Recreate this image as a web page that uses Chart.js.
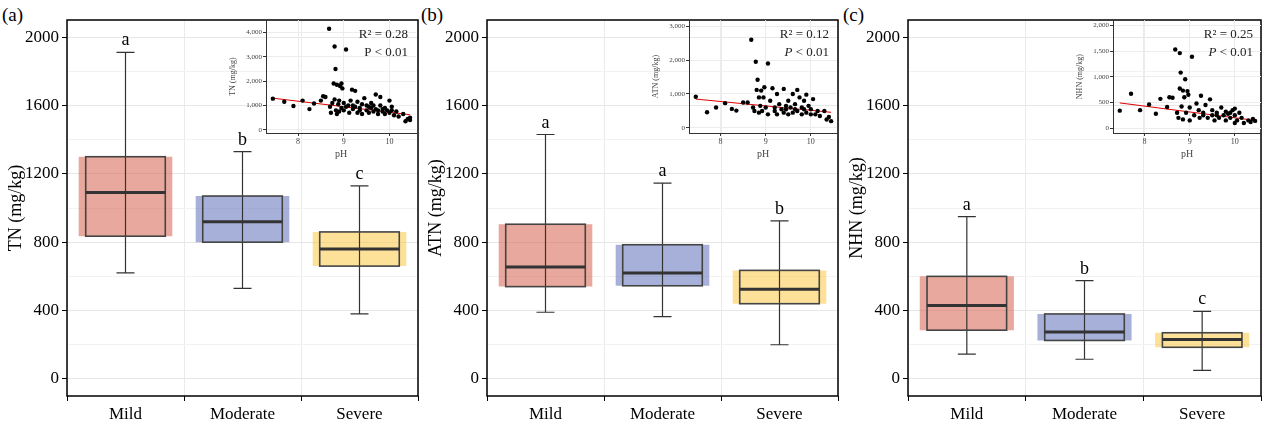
<!DOCTYPE html>
<html><head><meta charset="utf-8">
<script src="https://cdn.jsdelivr.net/npm/chart.js@4"></script>
<style>
body{margin:0;width:1269px;height:444px;background:#fff;position:relative;overflow:hidden;font-family:"Liberation Serif",serif}
canvas{position:absolute}
.lab{position:absolute;font-size:19px;top:4px}
</style></head><body>
<div class="lab" style="left:2px">(a)</div>
<div class="lab" style="left:421px">(b)</div>
<div class="lab" style="left:843px">(c)</div>
<canvas id="ma" style="left:0;top:0" width="422" height="444"></canvas>
<canvas id="mb" style="left:420px;top:0" width="422" height="444"></canvas>
<canvas id="mc" style="left:841px;top:0" width="424" height="444"></canvas>
<canvas id="ia" style="left:228px;top:15px" width="192" height="145"></canvas>
<canvas id="ib" style="left:651px;top:15px" width="190" height="145"></canvas>
<canvas id="ic" style="left:1075px;top:15px" width="190" height="145"></canvas>
<script>
"use strict";
const $ = (id) => document.getElementById(id);
const FONT = "'Liberation Serif', serif";

const groups = ["Mild", "Moderate", "Severe"];
const boxColors = ["rgba(214,96,77,0.55)", "rgba(86,104,180,0.52)", "rgba(253,197,60,0.52)"];

// [min, q1, median, q3, max]
const tnBox = [[620, 835, 1090, 1300, 1910], [530, 800, 920, 1070, 1330], [380, 660, 760, 860, 1130]];
const atnBox = [[390, 540, 655, 905, 1430], [365, 545, 620, 785, 1145], [200, 440, 525, 635, 925]];
const nhnBox = [[145, 285, 430, 600, 950], [115, 225, 275, 380, 575], [50, 185, 230, 270, 395]];
const tnLetters = ["a", "b", "c"];
const atnLetters = ["a", "a", "b"];
const nhnLetters = ["a", "b", "c"];

const tnPts = [[7.45,1280],[7.7,1150],[7.9,980],[8.1,1200],[8.25,850],[8.35,1080],[8.5,1200],[8.55,1380],[8.6,1350],[8.68,4150],[8.7,950],[8.72,700],[8.75,1100],[8.78,1900],[8.8,3420],[8.8,1250],[8.82,2500],[8.83,800],[8.85,1850],[8.85,650],[8.88,1050],[8.9,1200],[8.9,750],[8.92,1800],[8.95,1900],[8.95,900],[8.97,1700],[9.0,1100],[9.0,800],[9.05,3300],[9.05,950],[9.1,1000],[9.12,700],[9.15,1200],[9.18,1650],[9.2,850],[9.25,1600],[9.25,950],[9.3,1150],[9.3,700],[9.35,900],[9.4,1050],[9.4,650],[9.45,1300],[9.5,800],[9.5,1000],[9.55,700],[9.6,900],[9.6,1100],[9.65,750],[9.7,1450],[9.7,850],[9.75,650],[9.8,1000],[9.8,1350],[9.85,750],[9.9,900],[9.9,650],[9.95,800],[10.0,1200],[10.0,700],[10.05,950],[10.1,600],[10.15,750],[10.2,550],[10.3,650],[10.35,350],[10.4,450],[10.45,400],[10.45,500],[9.2,1000],[9.35,800],[9.55,950],[9.65,1000],[9.75,800],[9.85,850],[10.05,800]];
const atnPts = [[7.45,920],[7.7,460],[7.9,600],[8.1,730],[8.25,560],[8.35,510],[8.5,750],[8.6,750],[8.68,2600],[8.72,600],[8.75,500],[8.78,1950],[8.8,1120],[8.82,1420],[8.85,900],[8.85,450],[8.88,650],[8.9,1100],[8.92,500],[8.95,900],[8.97,1200],[9.0,600],[9.05,1900],[9.05,400],[9.1,800],[9.15,1170],[9.2,600],[9.25,1000],[9.25,400],[9.3,700],[9.35,550],[9.4,1150],[9.4,450],[9.45,650],[9.5,800],[9.5,400],[9.55,600],[9.6,1000],[9.6,450],[9.65,700],[9.7,1120],[9.7,500],[9.75,900],[9.8,600],[9.8,400],[9.85,800],[9.9,450],[9.9,980],[9.95,650],[10.0,550],[10.05,850],[10.1,400],[10.15,500],[10.2,350],[10.3,500],[10.35,250],[10.4,320],[10.45,200],[9.2,500],[9.45,550],[9.65,550],[9.85,550],[10.0,400]];
const nhnPts = [[7.45,340],[7.7,670],[7.9,350],[8.1,460],[8.25,280],[8.35,570],[8.5,410],[8.55,600],[8.62,590],[8.68,1530],[8.72,300],[8.75,200],[8.78,1460],[8.78,770],[8.8,1080],[8.82,420],[8.85,730],[8.85,170],[8.88,600],[8.9,950],[8.92,300],[8.95,720],[8.97,650],[9.0,400],[9.0,150],[9.05,1390],[9.1,250],[9.15,480],[9.2,350],[9.22,200],[9.25,630],[9.3,300],[9.35,450],[9.4,200],[9.45,560],[9.5,250],[9.5,350],[9.55,150],[9.6,300],[9.65,200],[9.7,400],[9.75,250],[9.8,320],[9.8,150],[9.85,280],[9.9,200],[9.95,350],[10.0,250],[10.0,380],[10.05,150],[10.1,300],[10.15,200],[10.2,100],[10.3,150],[10.35,120],[10.4,180],[10.45,140],[9.3,250],[9.6,250],[9.9,300],[10.0,100]];
// fitted line endpoints
const tnFit = [[7.45,1300],[10.45,620]];
const atnFit = [[7.45,850],[10.45,460]];
const nhnFit = [[7.45,490],[10.45,150]];

const frame = {
  id: "frame",
  afterDraw(c) {
    const a = c.chartArea, ctx = c.ctx;
    ctx.save(); ctx.strokeStyle = "#000"; ctx.lineWidth = 1.5;
    ctx.strokeRect(a.left, a.top, a.right - a.left, a.bottom - a.top); ctx.restore();
  },
};

const boxPlugin = {
  id: "boxes",
  afterDatasetsDraw(c) {
    const { box, letters } = c.config.options.plugins.boxes;
    const x = c.scales.x, y = c.scales.y, ctx = c.ctx;
    ctx.save();
    box.forEach((b, i) => {
      const cx = x.getPixelForValue(i), hw = 40, cap = 9;
      ctx.strokeStyle = "#333"; ctx.lineWidth = 1.2;
      ctx.beginPath();
      ctx.moveTo(cx, y.getPixelForValue(b[0])); ctx.lineTo(cx, y.getPixelForValue(b[4]));
      [b[0], b[4]].forEach((v) => { const p = y.getPixelForValue(v); ctx.moveTo(cx - cap, p); ctx.lineTo(cx + cap, p); });
      ctx.stroke();
      const t = y.getPixelForValue(b[3]), bt = y.getPixelForValue(b[1]);
      ctx.lineWidth = 1.6; ctx.strokeStyle = "#444";
      ctx.strokeRect(cx - 2.6 * cap * 1.7, t, 2 * 2.6 * cap * 1.7, bt - t);
      ctx.lineWidth = 3; ctx.strokeStyle = "#333";
      const m = y.getPixelForValue(b[2]);
      ctx.beginPath(); ctx.moveTo(cx - 2.6 * cap * 1.7, m); ctx.lineTo(cx + 2.6 * cap * 1.7, m); ctx.stroke();
      ctx.fillStyle = "#000"; ctx.font = `18px ${FONT}`; ctx.textAlign = "center";
      ctx.fillText(letters[i], cx, y.getPixelForValue(b[4]) - 7);
    });
    ctx.restore();
  },
};

function makeMain(id, title, box, letters) {
  new Chart($(id), {
    type: "bar",
    data: {
      labels: groups,
      datasets: [{ data: box.map((b) => [b[1], b[3]]), backgroundColor: boxColors, barPercentage: 0.8, categoryPercentage: 1 }],
    },
    options: {
      responsive: false, animation: false,
      layout: { padding: { left: 5, top: 20, right: 4 } },
      plugins: { legend: { display: false }, tooltip: { enabled: false }, boxes: { box, letters } },
      scales: {
        x: {
          grid: { color: "#ebebeb", drawTicks: true, tickColor: "#000", tickLength: 5 },
          border: { display: false },
          ticks: { color: "#000", font: { family: FONT, size: 17 } },
          afterFit: (s) => { s.height = 48; },
        },
        y: {
          min: -100, max: 2100,
          afterBuildTicks: (s) => { s.ticks = []; for (let v = 0; v <= 2000; v += 200) s.ticks.push({ value: v }); },
          grid: { color: (c) => (c.tick.value % 400 === 0 ? "#e6e6e6" : "#f2f2f2"), tickColor: (c) => (c.tick.value % 400 === 0 ? "#000" : "rgba(0,0,0,0)"), tickLength: 5 },
          border: { display: false },
          ticks: { color: "#000", font: { family: FONT, size: 17 }, callback: (v) => (v % 400 === 0 ? v : "") },
          title: { display: true, text: title, color: "#000", font: { family: FONT, size: 18 }, padding: 0 },
          afterFit: (s) => { s.width = 62; },
        },
      },
    },
    plugins: [boxPlugin, frame],
  });
}

const statPlugin = {
  id: "stat",
  afterDraw(c) {
    const { r2 , italic } = c.config.options.plugins.stat;
    const a = c.chartArea, ctx = c.ctx;
    ctx.save(); ctx.fillStyle = "#222"; ctx.textAlign = "right";
    ctx.font = `13px ${FONT}`;
    ctx.fillText("R\u00b2 = " + r2, a.right - 8, a.top + 18);
    ctx.font = `${italic ? "italic " : ""}13px ${FONT}`;
    const rest = " < 0.01";
    ctx.font = `13px ${FONT}`;
    const w = ctx.measureText(rest).width;
    ctx.fillText(rest, a.right - 8, a.top + 36);
    ctx.font = `${italic ? "italic " : ""}13px ${FONT}`;
    ctx.fillText("P", a.right - 8 - w, a.top + 36);
    ctx.restore();
  },
};

function makeInset(id, title, pts, fit, yMin, yMax, yStep, r2, italic) {
  new Chart($(id), {
    type: "scatter",
    data: {
      datasets: [
        { data: pts.map((p) => ({ x: p[0], y: p[1] })), backgroundColor: "#000", pointRadius: 2.2, borderWidth: 0 },
        { type: "line", data: fit.map((p) => ({ x: p[0], y: p[1] })), borderColor: "#e00000", borderWidth: 1, pointRadius: 0 },
      ],
    },
    options: {
      responsive: false, animation: false,
      layout: { padding: { top: 5, right: 2 } },
      plugins: { legend: { display: false }, tooltip: { enabled: false }, stat: { r2, italic } },
      scales: {
        x: {
          min: 7.3, max: 10.58,
          afterBuildTicks: (s) => { s.ticks = [8, 9, 10].map((v) => ({ value: v })); },
          grid: { color: "#ececec", tickColor: "#333", tickLength: 3 },
          border: { color: "#333", width: 1 },
          ticks: { color: "#444", font: { family: FONT, size: 8 }, padding: 1 },
          title: { display: true, text: "pH", color: "#444", font: { family: FONT, size: 10 }, padding: 0 },
          afterFit: (s) => { s.height = 27; },
        },
        y: {
          min: yMin, max: yMax,
          afterBuildTicks: (s) => { s.ticks = []; for (let v = 0; v <= yMax; v += yStep) s.ticks.push({ value: v }); },
          grid: { color: "#ececec", tickColor: "#333", tickLength: 3 },
          border: { color: "#333", width: 1 },
          ticks: { color: "#444", font: { family: FONT, size: 7 }, padding: 1 },
          title: { display: true, text: title, color: "#444", font: { family: FONT, size: 8 }, padding: 0 },
          afterFit: (s) => { s.width = 38; },
        },
      },
    },
    plugins: [statPlugin],
  });
}

makeMain("ma", "TN (mg/kg)", tnBox, tnLetters);
makeMain("mb", "ATN (mg/kg)", atnBox, atnLetters);
makeMain("mc", "NHN (mg/kg)", nhnBox, nhnLetters);
makeInset("ia", "TN (mg/kg)", tnPts, tnFit, -130, 4500, 1000, "0.28", false);
makeInset("ib", "ATN (mg/kg)", atnPts, atnFit, -150, 3175, 1000, "0.12", true);
makeInset("ic", "NHN (mg/kg)", nhnPts, nhnFit, -95, 2100, 500, "0.25", true);
</script>
</body></html>
